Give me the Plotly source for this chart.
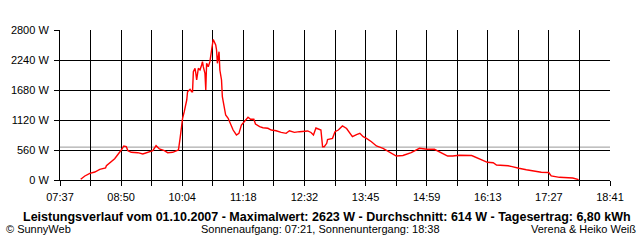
import plotly.graph_objects as go

# ---- data ----
times = ["08:02","08:07","08:13","08:19","08:25","08:32","08:33","08:39","08:43","08:51",
         "08:54","08:57","08:59","09:03","09:11","09:17","09:23","09:29","09:33","09:37",
         "09:43","09:47","09:53","09:57","10:00","10:02","10:05","10:07","10:10","10:11",
         "10:14","10:16","10:17","10:18","10:20","10:21","10:22","10:24","10:26","10:28",
         "10:29","10:30","10:32","10:33","10:34","10:36","10:38","10:40","10:41","10:42",
         "10:45","10:46","10:47","10:49","10:50","10:52","10:53","10:55","10:57","11:00",
         "11:02","11:06","11:10","11:13","11:16","11:20","11:24","11:27","11:31","11:33",
         "11:38","11:42","11:48","11:52","11:58","12:04","12:10","12:14","12:20","12:26",
         "12:36","12:40","12:43","12:46","12:50","12:52","12:54","12:56","12:59","13:00",
         "13:06","13:09","13:13","13:18","13:23","13:27","13:30","13:35","13:39","13:43",
         "13:47","13:53","13:59","14:07","14:15","14:23","14:31","14:41","14:51","15:00",
         "15:09","15:17","15:25","15:31","15:39","15:54","15:59","16:06","16:13","16:20",
         "16:24","16:38","16:42","16:51","17:00","17:12","17:18","17:27","17:30","17:40",
         "17:48","17:56","18:02","18:03"]
power_w = [13,75,125,149,200,224,267,336,398,560,
           635,622,547,517,510,485,510,547,640,579,
           547,510,517,541,560,780,1152,1275,1493,1648,
           1693,1648,1648,2022,2085,1992,1867,2085,2053,2147,
           2208,2115,1992,1680,2178,2115,2208,2427,2552,2623,
           2520,2427,2178,2395,2053,1867,1555,1368,1213,1152,
           1070,933,840,871,1027,1089,1170,1133,1133,1045,
           995,976,965,933,920,890,871,920,890,902,
           915,887,840,971,943,933,622,622,685,756,
           778,902,933,1008,961,871,808,849,871,808,
           778,715,635,592,517,448,457,510,592,573,
           573,510,448,448,461,457,420,373,330,323,
           280,267,248,220,192,168,144,140,75,50,
           37,37,13,0]
average_w = 614
y_ticks = [0, 560, 1120, 1680, 2240, 2800]
y_tick_labels = ["0 W", "560 W", "1120 W", "1680 W", "2240 W", "2800 W"]
x_tick_labels = ["07:37", "08:50", "10:04", "11:18", "12:32", "13:45", "14:59", "16:13", "17:27", "18:41"]
x_start, x_end = "07:37", "18:41"

title_text = "Leistungsverlauf vom 01.10.2007 - Maximalwert: 2623 W - Durchschnitt: 614 W - Tagesertrag: 6,80 kWh"
left_text = "© SunnyWeb"
mid_text = "Sonnenaufgang: 07:21, Sonnenuntergang: 18:38"
right_text = "Verena & Heiko Weiß"


def to_min(s):
    h, m = s.split(":")
    return int(h) * 60 + int(m)


xs = [to_min(t) for t in times]
x0, x1 = to_min(x_start), to_min(x_end)
n_grid = 2 * (len(x_tick_labels) - 1)
grid_vals = [x0 + i * (x1 - x0) / n_grid for i in range(n_grid + 1)]
grid_text = [x_tick_labels[i // 2] if i % 2 == 0 else "" for i in range(n_grid + 1)]

FONT = "Liberation Sans"

fig = go.Figure()
fig.add_trace(go.Scatter(x=xs, y=power_w, mode="lines",
                         line=dict(color="#ff0000", width=1.4, shape="linear"),
                         hoverinfo="skip", showlegend=False))

fig.add_shape(type="line", xref="x", yref="y", x0=x0, x1=x1, y0=average_w, y1=average_w,
              line=dict(color="#999999", width=1), layer="below")

fig.update_layout(
    width=640, height=240,
    margin=dict(l=60, r=30, t=30, b=60),
    paper_bgcolor="white", plot_bgcolor="white",
    font=dict(family=FONT, size=11, color="black"),
    showlegend=False,
)
fig.update_xaxes(range=[x0, x1], tickvals=grid_vals, ticktext=grid_text,
                 showgrid=True, gridcolor="black", gridwidth=1,
                 showline=True, linecolor="black", linewidth=1,
                 ticks="outside", ticklen=5, tickcolor="black", tickwidth=1,
                 ticklabelstandoff=2,
                 zeroline=False, tickfont=dict(family=FONT, size=11))
fig.update_yaxes(range=[0, 2800], tickvals=y_ticks, ticktext=y_tick_labels,
                 showgrid=True, gridcolor="black", gridwidth=1,
                 showline=True, linecolor="black", linewidth=1,
                 ticks="outside", ticklen=5, tickcolor="black", tickwidth=1,
                 ticklabelstandoff=3,
                 zeroline=False, tickfont=dict(family=FONT, size=11))

fig.add_annotation(xref="paper", yref="paper", x=(327 - 60) / 550, y=(180 - 216.5) / 150,
                   text="<b>" + title_text + "</b>", showarrow=False,
                   xanchor="center", yanchor="middle",
                   font=dict(family=FONT, size=12.5, color="black"))
fig.add_annotation(xref="paper", yref="paper", x=(4 - 60) / 550, y=(180 - 229) / 150,
                   text=left_text, showarrow=False, xanchor="left", yanchor="middle",
                   font=dict(family=FONT, size=11, color="black"))
fig.add_annotation(xref="paper", yref="paper", x=(320 - 60) / 550, y=(180 - 229) / 150,
                   text=mid_text, showarrow=False, xanchor="center", yanchor="middle",
                   font=dict(family=FONT, size=11, color="black"))
fig.add_annotation(xref="paper", yref="paper", x=(638 - 60) / 550, y=(180 - 229) / 150,
                   text=right_text, showarrow=False, xanchor="right", yanchor="middle",
                   font=dict(family=FONT, size=11, color="black"))

fig.write_html("out.html")
